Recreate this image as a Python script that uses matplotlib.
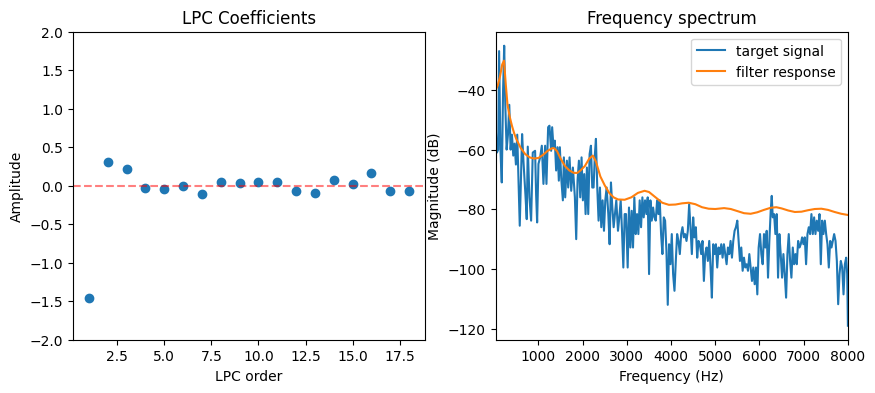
import numpy as np
import matplotlib
matplotlib.use("Agg")
import matplotlib.pyplot as plt

# ---- LPC coefficients (order 1..18) ----
lpc_order = np.arange(1, 19)
lpc_coef = [-1.457, 0.311, 0.219, -0.028, -0.041, 0.002, -0.106, 0.050, 0.037,
            0.050, 0.050, -0.067, -0.089, 0.076, 0.024, 0.167, -0.063, -0.063]

# ---- target signal spectrum (Hz, dB) ----
sig_hz = [32, 60, 90, 110, 140, 170, 200, 225, 250, 280, 310, 340, 370, 400, 430, 460, 490, 520,
          577, 630, 660, 705, 735, 758, 796, 834, 871, 924, 947, 970, 1000,
          1038, 1076, 1113, 1151, 1181, 1219, 1249, 1287, 1310, 1340, 1370, 1400, 1431, 1461, 1484, 1514,
          1552, 1575, 1605, 1643, 1673, 1703, 1741, 1779, 1824, 1854, 1884, 1915, 1945, 1975, 2005,
          2036, 2066, 2096, 2126, 2157, 2187, 2217, 2247, 2277, 2300, 2330, 2360, 2391, 2421, 2451, 2482, 2512,
          2542, 2580, 2610, 2640, 2671, 2701, 2731, 2761, 2799, 2829, 2860, 2890, 2920, 2950, 2981, 3018,
          3048, 3079, 3109, 3139, 3169, 3200, 3230, 3260, 3290, 3321, 3351, 3381, 3411, 3442, 3472, 3502,
          3532, 3563, 3593, 3623, 3653, 3684, 3714, 3744, 3774, 3804, 3835, 3865, 3895, 3925, 3955, 3986,
          4016, 4046, 4077, 4107, 4137, 4167, 4198, 4228, 4258, 4288, 4318, 4349, 4379, 4409, 4439, 4470, 4500,
          4530, 4560, 4591, 4621, 4651, 4681, 4711, 4742, 4772, 4802, 4832, 4863, 4893, 4923, 4953, 4983,
          5014, 5044, 5074, 5105, 5135, 5165, 5195, 5226, 5256, 5286, 5316, 5346, 5377, 5407, 5437, 5467, 5498,
          5528, 5558, 5588, 5619, 5649, 5679, 5709, 5740, 5770, 5800, 5830, 5860, 5891, 5921, 5951, 5981,
          6012, 6042, 6072, 6102, 6133, 6163, 6193, 6223, 6254, 6277, 6300, 6330, 6360, 6390, 6420, 6450, 6480,
          6511, 6541, 6571, 6602, 6632, 6662, 6692, 6722, 6753, 6783, 6813, 6843, 6874, 6904, 6934, 6964, 6994,
          7024, 7054, 7085, 7115, 7145, 7175, 7206, 7236, 7266, 7296, 7327, 7357, 7387, 7417, 7447, 7478, 7508,
          7538, 7568, 7599, 7629, 7659, 7689, 7720, 7750, 7780, 7810, 7840, 7871, 7901, 7931, 7961, 7984, 8000]
sig_db = [-52, -61, -60, -27, -60, -71, -40, -25.2, -45, -60, -55, -45, -60, -55, -62, -58, -65, -55,
          -85.5, -54.8, -63.7, -75, -83.3, -59, -76, -83.8, -61, -60.4, -75, -84.4, -64.8,
          -62.6, -58.7, -71.5, -58.7, -71.5, -52.5, -52, -60.4, -52.5, -59.2, -57, -67, -59.2, -70.4, -59.2, -69.3,
          -77, -62.6, -76, -63.7, -72.7, -62.6, -73.8, -66, -76, -90, -70.4, -63.7, -76, -62.6, -77,
          -68.2, -81.6, -66, -81.6, -61.5, -58.7, -72.7, -72.7, -61.5, -56.4, -72.7, -83.8, -72.7, -86, -77, -87.2, -77,
          -72.7, -81.6, -91.7, -71, -79.4, -86, -81.6, -77, -87.2, -82.7, -77, -87.2, -99.5, -81.6, -81.6, -99.5,
          -79.4, -92.8, -80.5, -92.8, -76, -88.3, -81.6, -88.3, -77, -86, -76, -82.7, -77, -81.6, -76, -101.7,
          -77, -83.8, -79.4, -82.7, -83.8, -77, -81.6, -77, -88.3, -95, -82.7, -83.8, -93.9, -112, -91.7, -98.4,
          -88.3, -101.7, -107.3, -97.3, -88.3, -90.6, -95, -88.3, -86, -89.4, -88.3, -90.6, -87.2, -78.3, -86, -95, -82.7,
          -89.4, -86, -96.2, -90.6, -91.7, -95, -90.6, -104, -95, -92.8, -97.3, -90.6, -99.5, -109.6, -91.7, -95,
          -91.7, -99.5, -92.8, -95, -91.7, -96.2, -91.7, -95, -98.4, -92.8, -95, -90.6, -96.2, -90.6, -87.2, -86, -83.8,
          -90.6, -97.3, -92.8, -100.6, -96.2, -99.5, -98.4, -100.6, -95, -99.5, -104, -99.5, -105.1, -99.5, -108.5, -92.8,
          -88.3, -95, -98.4, -88.3, -92.8, -87.2, -102.9, -90.6, -80.5, -75.5, -82.7, -81.6, -88.3, -81.6, -102.9, -88.3, -95,
          -102.9, -95, -101.7, -109.6, -95, -88.3, -97.3, -102.9, -92.8, -98.4, -95, -98.4, -90.6, -92.8, -91.7, -89.4, -91.7,
          -89.4, -98.4, -88.3, -86, -88.3, -81.6, -88.3, -82.7, -88.3, -83.8, -87.2, -81.6, -98.4, -83.8, -88.3, -83.8, -88.3,
          -91.7, -99.5, -90.6, -92.8, -90.6, -88.3, -90.6, -97.3, -111.8, -101.7, -97.3, -99.5, -108.5, -98.4, -96.2, -101.7, -119.0]

# ---- LPC filter response (Hz, dB) ----
filt_hz = [32, 80, 130, 180, 221, 260, 300, 350, 400, 450, 500, 600, 700, 800, 900, 1000,
           1100, 1200, 1300, 1350, 1420, 1500, 1600, 1700, 1800, 1880, 1950, 2050, 2150, 2230,
           2300, 2400, 2500, 2600, 2700, 2800, 2950, 3100, 3250, 3400, 3500, 3650, 3800, 3950,
           4100, 4250, 4400, 4550, 4700, 4850, 5000, 5200, 5350, 5500, 5650, 5800, 5950, 6100,
           6250, 6380, 6500, 6650, 6800, 6950, 7100, 7250, 7400, 7550, 7700, 7850, 8000]
filt_db = [-40.0, -38.5, -35.5, -31.5, -30.2, -38, -45, -49, -52, -54.5, -56.5, -59.5, -61.5, -62.6, -63.0, -62.8,
           -61.8, -60.5, -59.6, -59.5, -60.5, -63, -65.5, -67, -67.8, -67.8, -67, -65.5, -63, -62,
           -64, -69, -72, -74.5, -76, -76.7, -76.8, -76, -74.5, -73.8, -74.2, -76, -77.8, -78.5,
           -78.4, -78, -77.8, -78.3, -79.3, -79.8, -79.9, -79.6, -79.9, -80.6, -81.3, -81.5, -81, -80.2,
           -79.5, -79.3, -79.7, -80.4, -80.9, -80.8, -80.3, -79.9, -79.8, -80.2, -80.9, -81.5, -81.9]

fig, (ax1, ax2) = plt.subplots(1, 2, figsize=(10, 4))

ax1.scatter(lpc_order, lpc_coef)
ax1.axhline(0, color="r", linestyle="--", alpha=0.5)
ax1.set_ylim(-2, 2)
ax1.set_title("LPC Coefficients")
ax1.set_xlabel("LPC order")
ax1.set_ylabel("Amplitude")

ax2.plot(sig_hz, sig_db, label="target signal")
ax2.plot(filt_hz, filt_db, label="filter response")
ax2.set_xlim(31.25, 8000)
ax2.set_title("Frequency spectrum")
ax2.set_xlabel("Frequency (Hz)")
ax2.set_ylabel("Magnitude (dB)")
ax2.legend(loc="upper right")

fig.savefig("out.png", dpi=100, bbox_inches="tight")
